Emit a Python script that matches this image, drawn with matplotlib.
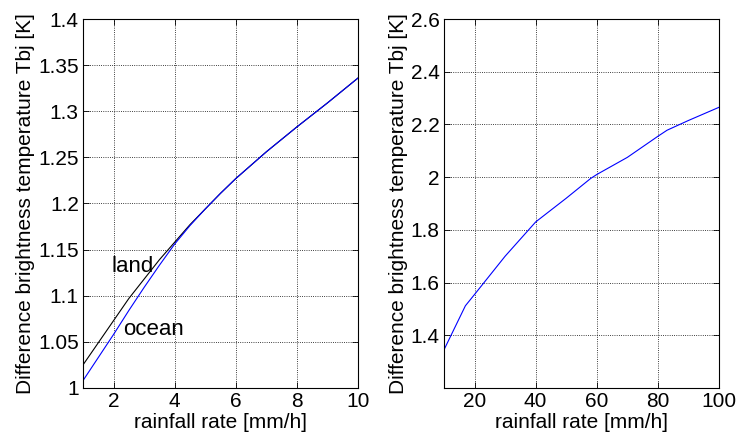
import numpy as np
import matplotlib.pyplot as plt

plt.rcParams['font.family'] = ['Liberation Sans', 'DejaVu Sans']

# left panel: 1-10 mm/h
rain_low = [1, 1.5, 2, 2.5, 3, 3.5, 4, 4.5, 5, 5.5, 6, 7, 8, 9, 10]
tb_land = [1.025, 1.049, 1.073, 1.097, 1.118, 1.139, 1.158, 1.177, 1.194, 1.211, 1.227,
           1.256, 1.283, 1.309, 1.336]
tb_ocean = [1.008, 1.033, 1.058, 1.084, 1.109, 1.133, 1.156, 1.176, 1.194, 1.211, 1.227,
            1.256, 1.283, 1.309, 1.336]

# right panel: 10-100 mm/h
rain_high = [10, 17, 20, 30, 40, 50, 58, 60, 70, 80, 83, 90, 100]
tb_high = [1.345, 1.512, 1.555, 1.70, 1.83, 1.92, 1.995, 2.01, 2.075, 2.155, 2.178, 2.215, 2.265]

fs = 15
fig = plt.figure(figsize=(7.43, 4.43), dpi=100)
ax1 = fig.add_axes([0.1117, 0.1242, 0.3701, 0.8329])
ax2 = fig.add_axes([0.5976, 0.1242, 0.3701, 0.8329])

ax1.plot(rain_low, tb_land, color='black', lw=0.8)
ax1.plot(rain_low, tb_ocean, color='blue', lw=0.8)
ax1.text(1.92, 1.132, 'land', fontsize=16, va='center')
ax1.text(2.32, 1.063, 'ocean', fontsize=16, va='center')
ax1.set_xlim(1, 10)
ax1.set_ylim(1, 1.4)
ax1.set_xticks([2, 4, 6, 8, 10])
ax1.set_yticks([1, 1.05, 1.1, 1.15, 1.2, 1.25, 1.3, 1.35, 1.4])
ax1.set_yticklabels(['1', '1.05', '1.1', '1.15', '1.2', '1.25', '1.3', '1.35', '1.4'])

ax2.plot(rain_high, tb_high, color='blue', lw=0.8)
ax2.set_xlim(10, 100)
ax2.set_ylim(1.2, 2.6)
ax2.set_xticks([20, 40, 60, 80, 100])
ax2.set_yticks([1.4, 1.6, 1.8, 2.0, 2.2, 2.4, 2.6])
ax2.set_yticklabels(['1.4', '1.6', '1.8', '2', '2.2', '2.4', '2.6'])

for ax in (ax1, ax2):
    ax.grid(True, color='black', linestyle=':', linewidth=0.6)
    ax.tick_params(direction='in', length=4, labelsize=fs, top=True, right=True, width=0.6, pad=3)
    for sp in ax.spines.values():
        sp.set_linewidth(0.8)
    ax.set_xlabel('rainfall rate [mm/h]', fontsize=fs, labelpad=1)
    ax.set_ylabel('Difference brightness temperature Tbj [K]', fontsize=fs, labelpad=2)

fig.savefig('out.png', dpi=100)
